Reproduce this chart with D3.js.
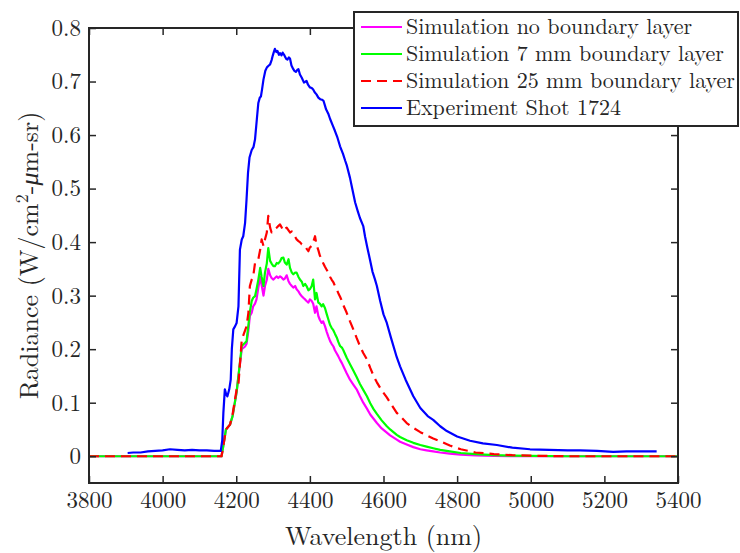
<!DOCTYPE html>
<html>
<head>
<meta charset="utf-8">
<script src="https://cdn.jsdelivr.net/npm/d3@7"></script>
<style>
  html, body { margin: 0; padding: 0; background: #fff; }
  svg { display: block; }
</style>
</head>
<body>
<svg id="chart" width="740" height="553"></svg>
<script>
// Simulated spectra share one wavelength grid (nm)
const simWavelength = [3800, 4160, 4165, 4172, 4183, 4190, 4201, 4206, 4215, 4224, 4228, 4233, 4237, 4242, 4246, 4251,
  4255, 4260, 4265, 4269, 4274, 4278, 4283, 4287, 4292, 4296, 4301, 4305, 4310, 4314, 4319, 4323, 4328, 4332, 4337,
  4342, 4346, 4351, 4355, 4360, 4364, 4369, 4373, 4378, 4382, 4387, 4391, 4396, 4400, 4405, 4409, 4414, 4418, 4423,
  4427, 4432, 4436, 4441, 4446, 4450, 4455, 4459, 4464, 4468, 4473, 4477, 4482, 4487, 4491, 4500, 4509, 4518, 4527,
  4536, 4545, 4555, 4564, 4573, 4582, 4595, 4609, 4618, 4636, 4645, 4663, 4681, 4700, 4717, 4735, 4754, 4780, 4810,
  4850, 4900, 4950, 5000, 5100, 5200, 5300, 5400];

// Radiance, no boundary layer
const simNoLayer = [0, 0, 0.02, 0.05, 0.059, 0.075, 0.12, 0.15, 0.2, 0.205, 0.21, 0.235, 0.262, 0.268, 0.28, 0.285,
  0.293, 0.315, 0.335, 0.32, 0.3, 0.318, 0.33, 0.35, 0.338, 0.333, 0.33, 0.333, 0.336, 0.333, 0.336, 0.334, 0.33,
  0.332, 0.338, 0.327, 0.322, 0.318, 0.315, 0.318, 0.312, 0.308, 0.303, 0.299, 0.296, 0.293, 0.29, 0.287, 0.293,
  0.29, 0.285, 0.268, 0.28, 0.262, 0.255, 0.249, 0.252, 0.243, 0.232, 0.224, 0.215, 0.21, 0.205, 0.198, 0.192,
  0.187, 0.18, 0.174, 0.168, 0.155, 0.143, 0.134, 0.125, 0.112, 0.1, 0.089, 0.078, 0.07, 0.062, 0.052, 0.044,
  0.039, 0.031, 0.027, 0.022, 0.017, 0.013, 0.011, 0.009, 0.007, 0.005, 0.003, 0.0015, 0.0005, 0, 0, 0, 0, 0, 0];

// Radiance, 7 mm boundary layer
const sim7mm = [0, 0, 0.02, 0.05, 0.059, 0.075, 0.12, 0.15, 0.206, 0.212, 0.215, 0.245, 0.27, 0.29, 0.296, 0.299,
  0.312, 0.33, 0.352, 0.335, 0.318, 0.343, 0.36, 0.389, 0.365, 0.36, 0.355, 0.355, 0.361, 0.36, 0.364, 0.37, 0.371,
  0.362, 0.358, 0.368, 0.352, 0.343, 0.34, 0.343, 0.343, 0.335, 0.33, 0.326, 0.318, 0.322, 0.318, 0.31, 0.312,
  0.318, 0.33, 0.293, 0.305, 0.287, 0.285, 0.28, 0.284, 0.277, 0.265, 0.256, 0.245, 0.24, 0.235, 0.229, 0.222,
  0.214, 0.206, 0.203, 0.198, 0.184, 0.172, 0.16, 0.148, 0.135, 0.124, 0.112, 0.099, 0.088, 0.079, 0.067, 0.056,
  0.05, 0.04, 0.036, 0.03, 0.025, 0.021, 0.018, 0.015, 0.012, 0.009, 0.006, 0.004, 0.002, 0.001, 0.0005, 0, 0, 0, 0];

// Radiance, 25 mm boundary layer
const sim25mm = [0, 0, 0.02, 0.05, 0.059, 0.078, 0.125, 0.135, 0.218, 0.235, 0.243, 0.268, 0.318, 0.33, 0.336, 0.361,
  0.365, 0.368, 0.386, 0.405, 0.393, 0.405, 0.418, 0.449, 0.427, 0.418, 0.42, 0.425, 0.427, 0.43, 0.433, 0.428,
  0.421, 0.425, 0.427, 0.422, 0.418, 0.42, 0.415, 0.41, 0.405, 0.402, 0.4, 0.396, 0.395, 0.393, 0.388, 0.383, 0.39,
  0.393, 0.4, 0.411, 0.395, 0.385, 0.375, 0.368, 0.361, 0.354, 0.348, 0.343, 0.335, 0.33, 0.325, 0.318, 0.312,
  0.305, 0.298, 0.29, 0.282, 0.268, 0.252, 0.237, 0.221, 0.206, 0.193, 0.181, 0.165, 0.15, 0.138, 0.123, 0.11,
  0.1, 0.081, 0.075, 0.062, 0.053, 0.045, 0.039, 0.033, 0.028, 0.02, 0.013, 0.007, 0.004, 0.002, 0.001, 0, 0, 0, 0];

// Measured spectrum, shot 1724
const expWavelength = [3905, 3920, 3940, 3960, 3980, 4000, 4020, 4040, 4060, 4080, 4100, 4120, 4140, 4158, 4162,
  4165, 4169, 4173, 4176, 4181, 4185, 4188, 4192, 4197, 4201, 4206, 4210, 4215, 4219, 4224, 4228, 4232, 4236, 4242,
  4247, 4251, 4256, 4260, 4264, 4267, 4270, 4274, 4279, 4283, 4287, 4292, 4296, 4299, 4302, 4305, 4309, 4312, 4316,
  4319, 4323, 4326, 4330, 4333, 4336, 4339, 4343, 4346, 4350, 4355, 4358, 4362, 4366, 4369, 4373, 4378, 4384, 4388,
  4391, 4395, 4400, 4405, 4409, 4413, 4418, 4423, 4428, 4433, 4437, 4441, 4444, 4450, 4455, 4462, 4468, 4475, 4482,
  4490, 4496, 4500, 4509, 4515, 4523, 4530, 4536, 4545, 4550, 4556, 4563, 4570, 4577, 4582, 4591, 4600, 4609, 4620,
  4636, 4645, 4660, 4681, 4700, 4720, 4735, 4754, 4772, 4800, 4835, 4870, 4908, 4950, 4998, 5050, 5100, 5134, 5180,
  5224, 5260, 5300, 5342];
const expRadiance = [0.006, 0.007, 0.007, 0.009, 0.010, 0.011, 0.013, 0.012, 0.011, 0.012, 0.011, 0.011, 0.010,
  0.010, 0.03, 0.081, 0.125, 0.115, 0.112, 0.125, 0.143, 0.2, 0.237, 0.243, 0.249, 0.28, 0.386, 0.405, 0.411, 0.436,
  0.48, 0.53, 0.558, 0.572, 0.578, 0.592, 0.63, 0.66, 0.67, 0.672, 0.685, 0.704, 0.72, 0.726, 0.729, 0.732, 0.74,
  0.748, 0.755, 0.761, 0.755, 0.757, 0.75, 0.753, 0.749, 0.754, 0.75, 0.746, 0.742, 0.741, 0.745, 0.743, 0.73,
  0.723, 0.72, 0.718, 0.722, 0.723, 0.713, 0.707, 0.698, 0.7, 0.701, 0.694, 0.689, 0.688, 0.685, 0.68, 0.676, 0.67,
  0.667, 0.666, 0.664, 0.655, 0.648, 0.64, 0.63, 0.618, 0.608, 0.595, 0.579, 0.565, 0.552, 0.544, 0.52, 0.5, 0.474,
  0.458, 0.445, 0.43, 0.41, 0.39, 0.368, 0.345, 0.33, 0.318, 0.29, 0.265, 0.249, 0.222, 0.185, 0.168, 0.143, 0.112,
  0.09, 0.075, 0.068, 0.056, 0.047, 0.037, 0.029, 0.024, 0.021, 0.016, 0.013, 0.012, 0.011, 0.011, 0.010, 0.008,
  0.009, 0.009, 0.009];

const xTicks = [3800, 4000, 4200, 4400, 4600, 4800, 5000, 5200, 5400];
const yTicks = [0, 0.1, 0.2, 0.3, 0.4, 0.5, 0.6, 0.7, 0.8];

const legendLabels = ["Simulation no boundary layer", "Simulation 7 mm boundary layer",
  "Simulation 25 mm boundary layer", "Experiment Shot 1724"];

const svg = d3.select("#chart");
const plot = { left: 89, right: 678, top: 28, bottom: 483 };
const ink = "#262626";
const textFont = '"Latin Modern Roman", "Liberation Serif", serif';

const x = d3.scaleLinear().domain([3800, 5400]).range([plot.left, plot.right]);
const y = d3.scaleLinear().domain([-0.05, 0.8]).range([plot.bottom, plot.top]);

// Clip curves to the axes box
svg.append("defs").append("clipPath").attr("id", "plotClip")
  .append("rect").attr("x", plot.left).attr("y", plot.top)
  .attr("width", plot.right - plot.left).attr("height", plot.bottom - plot.top);

const series = [
  { wl: simWavelength, v: simNoLayer, color: "#ff00ff", dash: null },
  { wl: simWavelength, v: sim7mm, color: "#00ff00", dash: null },
  { wl: simWavelength, v: sim25mm, color: "#ff0000", dash: "10,6" },
  { wl: expWavelength, v: expRadiance, color: "#0000ff", dash: null }
];

const line = d3.line().x(d => x(d[0])).y(d => y(d[1]));
const curves = svg.append("g").attr("clip-path", "url(#plotClip)");
series.forEach(s => {
  curves.append("path")
    .datum(s.wl.map((w, i) => [w, s.v[i]]))
    .attr("d", line)
    .attr("fill", "none")
    .attr("stroke", s.color)
    .attr("stroke-width", 2.2)
    .attr("stroke-linejoin", "round")
    .attr("stroke-dasharray", s.dash);
});

// Axes with inward ticks on all four sides
const tickLen = 7;
const axisStyle = g => {
  g.attr("font-family", textFont).attr("font-size", 23);
  g.select(".domain").remove();
  g.selectAll(".tick line").attr("stroke", ink).attr("stroke-width", 1.5);
  g.selectAll(".tick text").attr("fill", ink).style("font-family", textFont);
};

svg.append("g").attr("transform", `translate(0,${plot.bottom})`)
  .call(d3.axisBottom(x).tickValues(xTicks).tickFormat(d3.format("d")).tickSizeInner(-tickLen).tickSizeOuter(0).tickPadding(9))
  .call(axisStyle);
svg.append("g").attr("transform", `translate(0,${plot.top})`)
  .call(d3.axisTop(x).tickValues(xTicks).tickFormat("").tickSizeInner(-tickLen).tickSizeOuter(0))
  .call(axisStyle);
svg.append("g").attr("transform", `translate(${plot.left},0)`)
  .call(d3.axisLeft(y).tickValues(yTicks).tickFormat(d => d === 0 ? "0" : d3.format(".1f")(d)).tickSizeInner(-tickLen).tickSizeOuter(0).tickPadding(8))
  .call(axisStyle);
svg.append("g").attr("transform", `translate(${plot.right},0)`)
  .call(d3.axisRight(y).tickValues(yTicks).tickFormat("").tickSizeInner(-tickLen).tickSizeOuter(0))
  .call(axisStyle);

svg.append("rect")
  .attr("x", plot.left).attr("y", plot.top)
  .attr("width", plot.right - plot.left).attr("height", plot.bottom - plot.top)
  .attr("fill", "none").attr("stroke", ink).attr("stroke-width", 2);

// Axis titles
svg.append("text")
  .attr("x", (plot.left + plot.right) / 2).attr("y", 545)
  .attr("text-anchor", "middle").attr("font-size", 26).attr("fill", ink)
  .style("font-family", textFont)
  .text("Wavelength (nm)");

const yTitle = svg.append("text")
  .attr("transform", `translate(38,${(plot.top + plot.bottom) / 2}) rotate(-90)`)
  .attr("text-anchor", "middle").attr("font-size", 26).attr("fill", ink)
  .style("font-family", textFont);
yTitle.append("tspan").text("Radiance (W/cm");
yTitle.append("tspan").attr("font-size", 18).attr("dy", -10).text("2");
yTitle.append("tspan").attr("dy", 10).text("-");
yTitle.append("tspan").attr("font-style", "italic").text("μ");
yTitle.append("tspan").text("m-sr)");

// Legend
const legend = svg.append("g");
legend.append("rect")
  .attr("x", 354).attr("y", 12).attr("width", 384).attr("height", 114)
  .attr("fill", "#fff").attr("stroke", ink).attr("stroke-width", 2);
series.forEach((s, i) => {
  const cy = 27 + i * 27;
  legend.append("line")
    .attr("x1", 361).attr("x2", 402).attr("y1", cy).attr("y2", cy)
    .attr("stroke", s.color).attr("stroke-width", 2.2)
    .attr("stroke-dasharray", s.dash);
  legend.append("text")
    .attr("x", 406).attr("y", cy + 7)
    .attr("font-size", 22).attr("fill", ink)
    .style("font-family", textFont)
    .text(legendLabels[i]);
});
</script>
</body>
</html>
